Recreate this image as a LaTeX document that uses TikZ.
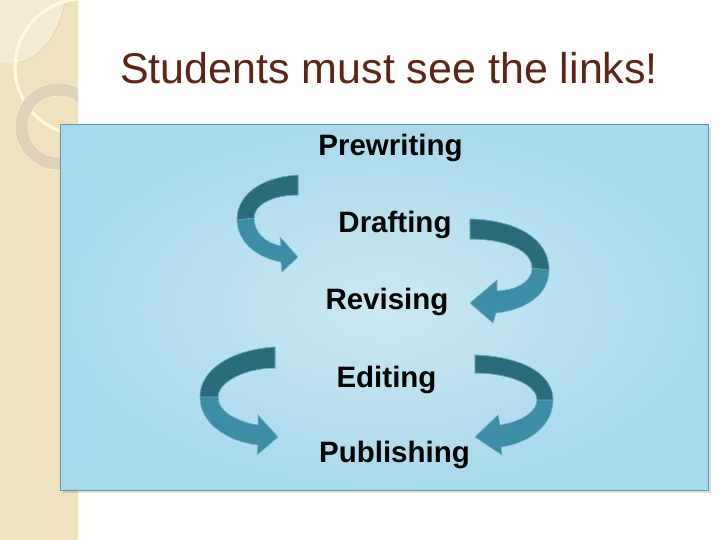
\documentclass[tikz,border=0pt]{standalone}
\usepackage{fontspec}
\setmainfont{Liberation Sans}
\definecolor{strip}{HTML}{F1E2BE}
\definecolor{striplight}{HTML}{F5EBD3}
\definecolor{ringcol}{HTML}{DFD2B6}
\definecolor{titlecol}{HTML}{5B2518}
\definecolor{boxedge}{HTML}{5C9AA8}
\definecolor{boxin}{HTML}{CBE8F3}
\definecolor{boxout}{HTML}{A9D9EC}
\definecolor{ribbondark}{HTML}{2C6B7C}
\definecolor{ribbonlight}{HTML}{3D8DA4}
\definecolor{ribbonedge}{HTML}{6FAFC0}
\begin{document}
\begin{tikzpicture}[x=1pt,y=-1pt,
  stage/.style={anchor=base,inner sep=0pt,font=\fontsize{29.5}{30}\selectfont\bfseries},
  ribbon/.style={fill=ribbonlight,draw=ribbonedge,line width=0.6pt},
  ribbonback/.style={fill=ribbondark,draw=ribbonedge,line width=0.6pt}]
\useasboundingbox (0,0) rectangle (720,540);
\fill[white] (0,0) rectangle (720,540);

% Linker strook
\fill[strip] (0,0) rectangle (78,540);
\fill[striplight] (0,0) -- (65,0) .. controls (60,35) and (40,58) .. (18,63) -- (0,63) -- cycle;
\draw[strip!70!brown,line width=0.4pt] (65,0) .. controls (60,35) and (40,58) .. (18,63);
\begin{scope}
  \clip (0,0) rectangle (78,540);
  \draw[white!85!yellow,line width=3pt] (83,67) circle (68);
  \fill[ringcol,even odd rule,draw=white!70!strip] (58.5,126.5) circle (43.5) (58.5,126.5) circle (30.5);
\end{scope}

% Titel
\node[anchor=base west,inner sep=0pt,text=titlecol,font=\fontsize{43}{45}\selectfont] (title) at (120,84) {Students must see the links!};

% Kader
\fill[black,opacity=0.12] (63,128) rectangle (711,493);
\shade[inner color=boxin,outer color=boxout] (60,125) rectangle (708,490);
\draw[boxedge,line width=1pt] (60,125) rectangle (708,490);

% Stappen
\node[stage] (pre) at (390.5,156) {Prewriting};
\node[stage] (dra) at (395,233) {Drafting};
\node[stage] (rev) at (387,309) {Revising};
\node[stage] (edi) at (386.5,387) {Editing};
\node[stage] (pub) at (394.5,462) {Publishing};

% Pijlen
\filldraw[ribbon] (298,175) .. controls (265,177) and (237,192) .. (237,220)
  .. controls (238,245) and (260,258) .. (281,262) -- (282,272) -- (298,257) -- (280,237) -- (281,246)
  .. controls (265,243) and (254,232) .. (254,218) .. controls (254,205) and (272,195) .. (298,195) -- cycle;
\filldraw[ribbonback] (298,175) .. controls (265,177) and (237,192) .. (237,220) -- (254,218)
  .. controls (254,205) and (272,195) .. (298,195) -- cycle;

\filldraw[ribbon] (470,219) .. controls (515,220) and (549,238) .. (549,270)
  .. controls (549,295) and (525,310) .. (496,313) -- (493,323) -- (470,303) -- (497,280) -- (497,291)
  .. controls (515,290) and (532,283) .. (532,268) .. controls (532,250) and (505,239) .. (470,239) -- cycle;
\filldraw[ribbonback] (470,219) .. controls (515,220) and (549,238) .. (549,270) -- (532,268)
  .. controls (532,250) and (505,239) .. (470,239) -- cycle;

\filldraw[ribbon] (275,347) .. controls (230,350) and (200,370) .. (200,397)
  .. controls (200,425) and (230,442) .. (258,445) -- (257,455) -- (278,437) -- (258,415) -- (258,425)
  .. controls (238,422) and (218,412) .. (218,397) .. controls (218,382) and (245,368) .. (275,368) -- cycle;
\filldraw[ribbonback] (275,347) .. controls (230,350) and (200,370) .. (200,397) -- (218,397)
  .. controls (218,382) and (245,368) .. (275,368) -- cycle;

\filldraw[ribbon] (475,355) .. controls (525,357) and (553,375) .. (553,400)
  .. controls (553,425) and (530,443) .. (501,447) -- (502,455) -- (475,437) -- (498,415) -- (500,425)
  .. controls (520,422) and (537,412) .. (537,400) .. controls (537,385) and (510,373) .. (475,373) -- cycle;
\filldraw[ribbonback] (475,355) .. controls (525,357) and (553,375) .. (553,400) -- (537,400)
  .. controls (537,385) and (510,373) .. (475,373) -- cycle;
\end{tikzpicture}
\end{document}
